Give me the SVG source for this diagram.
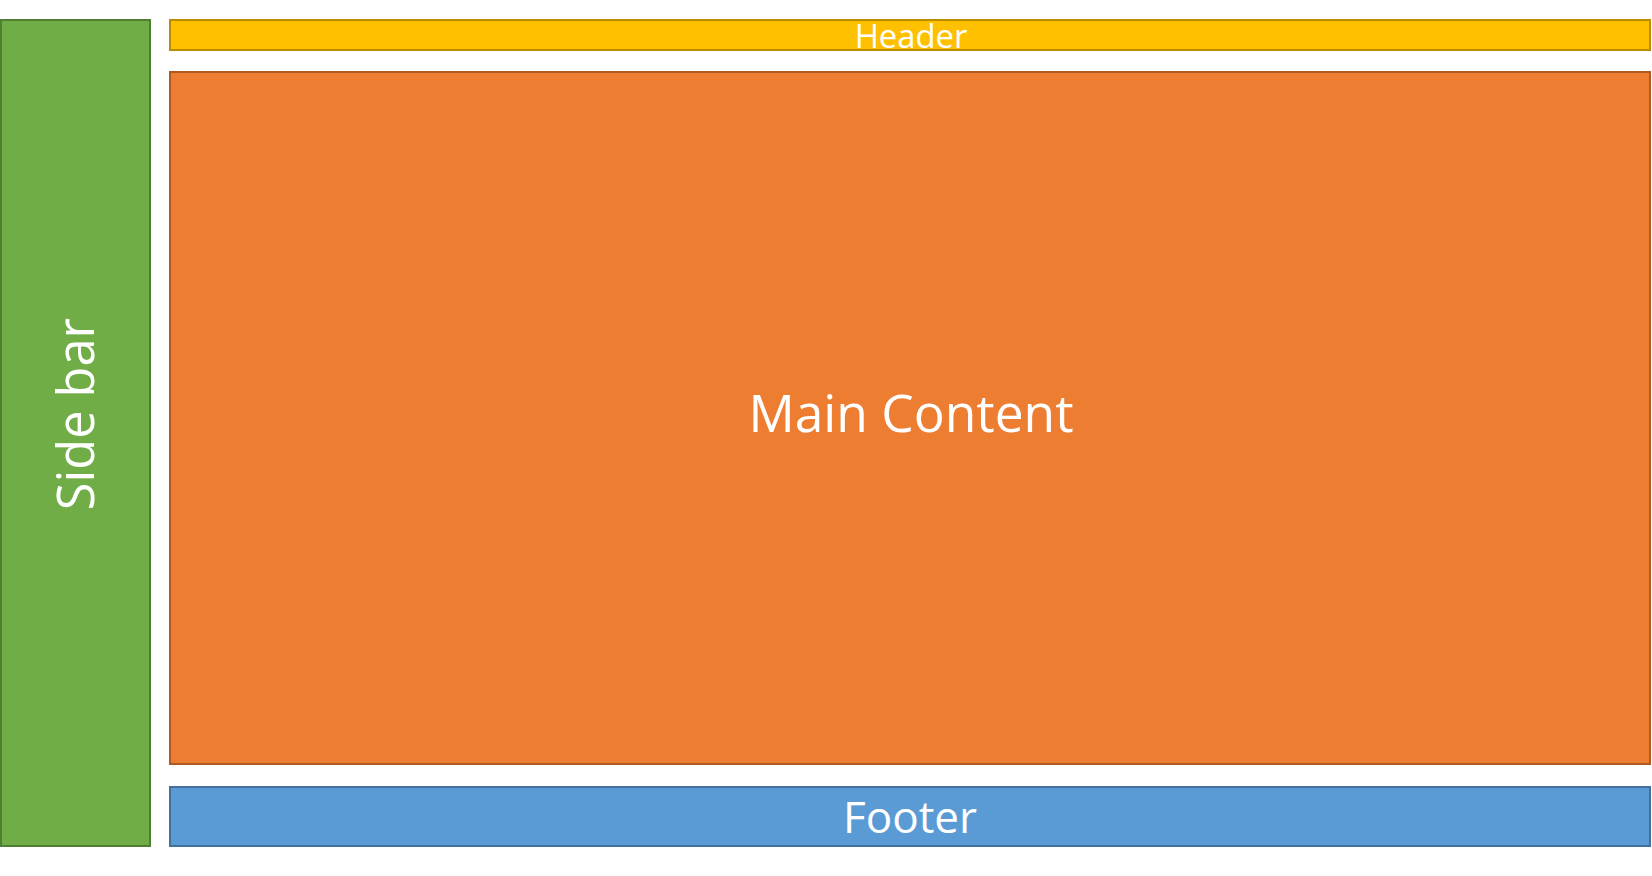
<svg xmlns="http://www.w3.org/2000/svg" width="1652" height="876" viewBox="0 0 1652 876">
<style>
.box{stroke-width:2}
.lbl{font-family:"Open Sans","Liberation Sans",sans-serif;fill:#fff;text-anchor:middle}
</style>
<rect width="1652" height="876" fill="#fff"/>
<g id="sidebar">
<rect class="box" x="1" y="20" width="149" height="826" fill="#70AD47" stroke="#507E32"/>
<text class="lbl" font-size="50.5" transform="translate(94,414) rotate(-90)">Side bar</text>
</g>
<g id="header">
<rect class="box" x="170" y="20" width="1480" height="30" fill="#FFC000" stroke="#BC8C00"/>
<text class="lbl" font-size="32.8" x="911" y="48">Header</text>
</g>
<g id="main">
<rect class="box" x="170" y="72" width="1480" height="692" fill="#ED7D31" stroke="#AE5A21"/>
<text class="lbl" font-size="51.5" x="911" y="432">Main Content</text>
</g>
<g id="footer">
<rect class="box" x="170" y="787" width="1480" height="59" fill="#5B9BD5" stroke="#41719C"/>
<text class="lbl" font-size="44" x="910" y="833">Footer</text>
</g>
<g id="connectors"/>
</svg>
